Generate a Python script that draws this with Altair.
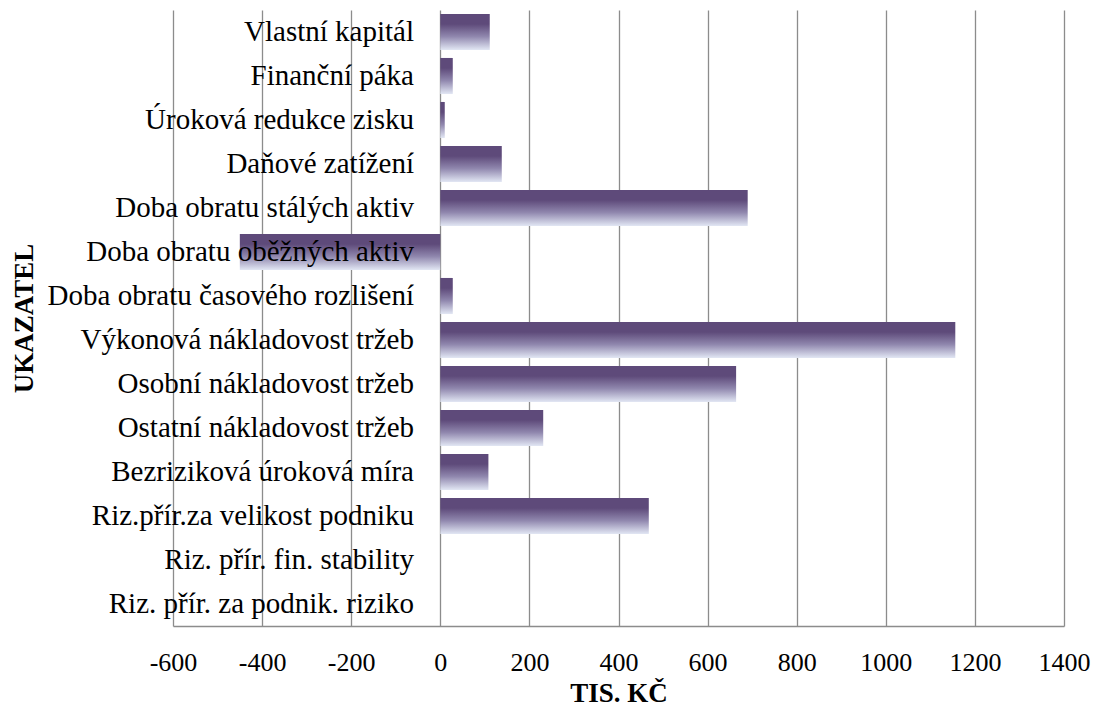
import altair as alt
import pandas as pd

# Indicator names (top to bottom) and their values in thousands CZK
indicators = [
    "Vlastní kapitál",
    "Finanční páka",
    "Úroková redukce zisku",
    "Daňové zatížení",
    "Doba obratu stálých aktiv",
    "Doba obratu oběžných aktiv",
    "Doba obratu časového rozlišení",
    "Výkonová nákladovost tržeb",
    "Osobní nákladovost tržeb",
    "Ostatní nákladovost tržeb",
    "Bezriziková úroková míra",
    "Riz.přír.za velikost podniku",
    "Riz. přír. fin. stability",
    "Riz. přír. za podnik. riziko",
]
values = [111, 28, 10, 138, 690, -450, 28, 1156, 664, 231, 108, 468, 0, 0]

x_ticks = [-600, -400, -200, 0, 200, 400, 600, 800, 1000, 1200, 1400]

df = pd.DataFrame({"label": indicators, "value": values})

SERIF = "Liberation Serif"
GRID = "#8c8c8c"

bar_fill = alt.Gradient(
    gradient="linear",
    x1=0, x2=0, y1=0, y2=1,
    stops=[
        alt.GradientStop(color="#5e4a7a", offset=0),
        alt.GradientStop(color="#5e4a7a", offset=0.28),
        alt.GradientStop(color="#8f86ad", offset=0.62),
        alt.GradientStop(color="#e2e7f4", offset=1),
    ],
)

y_enc = alt.Y(
    "label:N",
    sort=indicators,
    scale=alt.Scale(paddingInner=0.18, paddingOuter=0.09),
    axis=alt.Axis(
        labels=False, ticks=False, domain=False, grid=False,
        title="UKAZATEL", titleFont=SERIF, titleFontSize=27,
        titleFontWeight="bold", titleColor="black",
        titleBaseline="alphabetic", titleX=-141,
    ),
)

bars = alt.Chart(df).mark_bar(color=bar_fill).encode(
    y=y_enc,
    x=alt.X(
        "value:Q",
        scale=alt.Scale(domain=[-600, 1400], nice=False, zero=True),
        axis=alt.Axis(
            values=x_ticks, grid=True, gridColor=GRID, gridWidth=1.3,
            ticks=False, domainColor=GRID, domainWidth=1.3,
            labelExpr="'' + datum.value",
            labelFont=SERIF, labelFontSize=26, labelColor="black",
            labelPadding=23, labelFlush=False, labelOverlap=False,
            title="TIS. KČ", titleFont=SERIF, titleFontSize=27,
            titleFontWeight="bold", titleColor="black",
            titleBaseline="alphabetic", titleY=75,
        ),
    ),
)

# Indicator names written just left of the zero line, over the grid and bars
labels = alt.Chart(df).mark_text(
    align="right", baseline="middle", font=SERIF, fontSize=29, color="black"
).encode(
    y=y_enc,
    x=alt.value(241),
    text="label:N",
)

chart = (
    alt.layer(bars, labels)
    .properties(
        width=891,
        height=616,
        autosize=alt.AutoSizeParams(type="none"),
        padding={"left": 173, "top": 10, "right": 36, "bottom": 89},
        background="white",
    )
    .configure_view(stroke=None)
)

chart.save("out.html", embed_options={"renderer": "svg", "actions": False})
